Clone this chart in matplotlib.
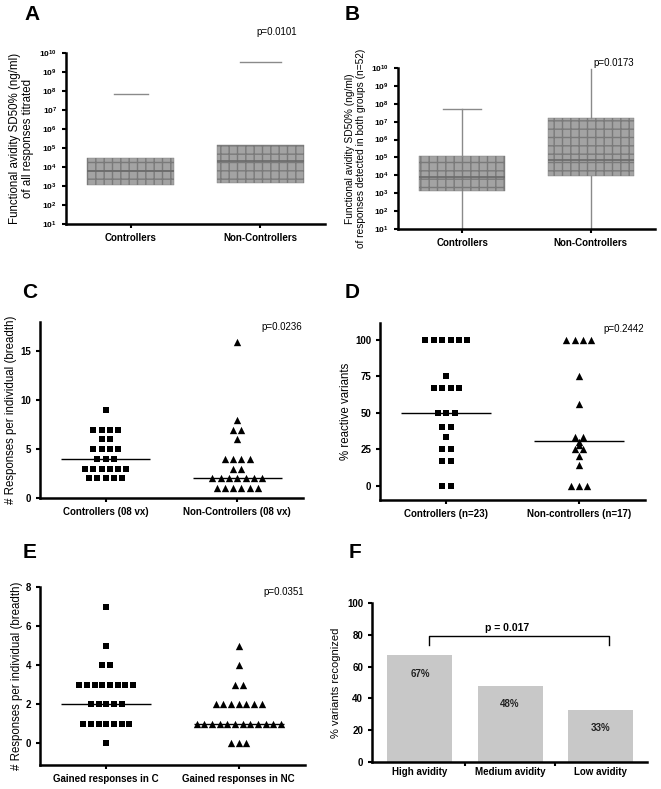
import numpy as np
import matplotlib.pyplot as plt
from matplotlib.ticker import LogLocator, LogFormatterMathtext

plt.rcParams['font.family'] = ['Liberation Sans', 'DejaVu Sans']
plt.rcParams['font.weight'] = 'bold'
plt.rcParams['hatch.linewidth'] = 1.0

# ---- data ----
box_groups = ['Controllers', 'Non-Controllers']
# panel A (all responses titrated)
a_q1 = [1.2e3, 1.5e3]
a_med = [6e3, 2e4]
a_q3 = [3e4, 1.4e5]
a_hi = [7e7, 3.5e9]
a_lo = [1.0, 1.0]
# panel B (responses detected in both groups)
b_q1 = [1.3e3, 9e3]
b_med = [8e3, 7e4]
b_q3 = [1.2e5, 1.6e7]
b_hi = [5e7, 9e9]
b_lo = [1.0, 1.0]

c_groups = ['Controllers (08 vx)', 'Non-Controllers (08 vx)']
c_ctrl = [9, 7, 7, 7, 7, 6, 6, 5, 5, 5, 5, 4, 4, 4, 3, 3, 3, 3, 3, 3, 2, 2, 2, 2, 2]
c_nc = [16, 8, 7, 7, 6, 4, 4, 4, 4, 3, 3, 2, 2, 2, 2, 2, 2, 2, 1, 1, 1, 1, 1, 1]
c_medians = [4, 2]

d_groups = ['Controllers (n=23)', 'Non-controllers (n=17)']
d_ctrl = [100] * 6 + [75] + [66.7] * 4 + [50] * 3 + [40] * 2 + [33.3] + [25] * 2 + [16.7] * 2 + [0] * 2
d_nc = [100] * 4 + [75, 56, 33.3, 33.3, 30, 28, 25, 25, 20, 14] + [0] * 3
d_medians = [50, 30.5]

e_groups = ['Gained responses in C', 'Gained responses in NC']
e_ctrl = [7, 5, 4, 4] + [3] * 8 + [2] * 5 + [1] * 7 + [0]
e_nc = [5, 4, 3, 3] + [2] * 7 + [1] * 12 + [0] * 3
e_medians = [2, 1]

f_cats = ['High avidity', 'Medium avidity', 'Low avidity']
f_vals = [67, 48, 33]
f_labels = ['67%', '48%', '33%']

fig = plt.figure(figsize=(6.61, 7.89), dpi=100)


def style(ax):
    for s in ['top', 'right']:
        ax.spines[s].set_visible(False)
    for s in ['left', 'bottom']:
        ax.spines[s].set_linewidth(1.8)
    ax.tick_params(width=1.5, length=3, labelsize=7)


def spread(vals, step):
    # place equal values side by side, centred on the category
    vals = np.asarray(vals, dtype=float)
    xs = np.zeros(len(vals))
    for v in np.unique(vals):
        idx = np.where(vals == v)[0]
        xs[idx] = (np.arange(len(idx)) - (len(idx) - 1) / 2) * step
    return xs


def box_panel(rect, q1, med, q3, lo, hi, ylabel, ylsize, pval, ptxt_xy, show_whisk, capw):
    ax = fig.add_axes(rect)
    stats = []
    for i in range(2):
        stats.append(dict(q1=q1[i], med=med[i], q3=q3[i], whislo=lo[i], whishi=hi[i]))
    wprops = dict(color='#8a8a8a', linewidth=1.0) if show_whisk else dict(visible=False)
    ax.bxp(stats, positions=[1, 2], widths=0.67, showfliers=False, patch_artist=True,
           boxprops=dict(facecolor='#a3a3a3', edgecolor='#7a7a7a', linewidth=0.3, hatch='++'),
           whiskerprops=wprops, capprops=dict(color='#8a8a8a', linewidth=1.0),
           medianprops=dict(color='#6a6a6a', linewidth=1.2), capwidths=capw)
    ax.set_yscale('log')
    ax.set_ylim(10, 1e10)
    ax.set_xlim(0.5, 2.5)
    ax.yaxis.set_major_locator(LogLocator(base=10, numticks=12))
    ax.yaxis.set_major_formatter(LogFormatterMathtext())
    ax.yaxis.set_minor_locator(plt.NullLocator())
    ax.set_xticks([1, 2])
    ax.set_xticklabels(box_groups, fontsize=7.5)
    ax.set_ylabel(ylabel, fontsize=ylsize, linespacing=1.1)
    style(ax)
    ax.tick_params(axis='y', labelsize=6)
    fig.text(ptxt_xy[0], ptxt_xy[1], pval, fontsize=7, fontweight='normal', ha='center', va='center')
    return ax


box_panel([0.0998, 0.716, 0.392, 0.217], a_q1, a_med, a_q3, a_lo, a_hi,
          'Functional avidity SD50% (ng/ml)\nof all responses titrated', 8.3, 'p=0.0101',
          (277 / 661, 1 - 32 / 789), False, [0.26, 0.32])
box_panel([0.602, 0.7098, 0.389, 0.204], b_q1, b_med, b_q3, b_lo, b_hi,
          'Functional avidity SD50% (ng/ml)\nof responses detected in both groups (n=52)', 7.3,
          'p=0.0173', (614 / 661, 1 - 63 / 789), True, [0.3, 0.0])


def dot_panel(rect, ctrl, nc, medians, groups, ylabel, ylim, yticks, yticklabels, pval, step):
    ax = fig.add_axes(rect)
    ax.scatter(1 + spread(ctrl, step), ctrl, marker='s', s=24, color='black', linewidths=0, zorder=3)
    ax.scatter(2 + spread(nc, step), nc, marker='^', s=28, color='black', linewidths=0, zorder=3)
    for i, m in enumerate(medians):
        ax.hlines(m, i + 1 - 0.34, i + 1 + 0.34, color='black', linewidth=1.0, zorder=2)
    ax.set_xlim(0.5, 2.5)
    ax.set_ylim(*ylim)
    ax.set_yticks(yticks)
    ax.set_yticklabels(yticklabels)
    ax.spines['left'].set_bounds(ylim[0], ylim[1])
    ax.set_xticks([1, 2])
    ax.set_xticklabels(groups, fontsize=7.5)
    ax.set_ylabel(ylabel, fontsize=8.3, labelpad=2)
    style(ax)
    ax.text(0.92, 0.97, pval, transform=ax.transAxes, fontsize=7, fontweight='normal',
            ha='center', va='center')
    return ax


dot_panel([0.0605, 0.3688, 0.398, 0.223], c_ctrl, c_nc, c_medians, c_groups,
          '# Responses per individual (breadth)', (0, 18), [0, 5, 10, 15],
          ['0', '5', '10', '15'], 'p=0.0236', 0.063)
dot_panel([0.575, 0.366, 0.401, 0.224], d_ctrl, d_nc, d_medians, d_groups,
          '% reactive variants', (-10, 111), [0, 25, 50, 75, 100],
          ['0', '25', '50', '75', '100'], 'p=0.2442', 0.063)
dot_panel([0.0605, 0.0304, 0.401, 0.2256], e_ctrl, e_nc, e_medians, e_groups,
          '# Responses per individual (breadth)', (-1.1, 8), [0, 2, 4, 6, 8],
          ['0', '2', '4', '6', '8'], 'p=0.0351', 0.058)

# panel F
axf = fig.add_axes([0.563, 0.0342, 0.416, 0.2015])
xf = np.arange(len(f_cats))
axf.bar(xf, f_vals, width=0.72, color='#c8c8c8')
for x, v, lab in zip(xf, f_vals, f_labels):
    axf.annotate(lab, (x, v), xytext=(0, -13), textcoords='offset points', ha='center',
                 va='center', fontsize=7, color='#222222')
axf.set_xlim(-0.53, 2.52)
axf.set_ylim(0, 100)
axf.set_yticks([0, 20, 40, 60, 80, 100])
axf.set_xticks(xf)
axf.set_xticklabels(f_cats, fontsize=7)
axf.set_xticks([0.5, 1.5], minor=True)
axf.set_ylabel('% variants recognized', fontsize=8)
style(axf)
axf.tick_params(axis='x', which='major', length=0)
axf.tick_params(axis='x', which='minor', length=3, width=1.5)
# significance bracket between high and low
axf.plot([0.1, 0.1, 2.1, 2.1], [73.5, 79, 79, 73.5], color='black', linewidth=1.0)
axf.text(0.97, 81, 'p = 0.017', ha='center', va='bottom', fontsize=7.5)

# panel letters
for lab, x, y in [('A', 32, 15), ('B', 352, 15), ('C', 30, 292),
                  ('D', 352, 292), ('E', 30, 553), ('F', 355, 553)]:
    fig.text(x / 661, 1 - y / 789, lab, fontsize=15, fontweight='bold', ha='center', va='center')

fig.savefig('out.png', dpi=100)
